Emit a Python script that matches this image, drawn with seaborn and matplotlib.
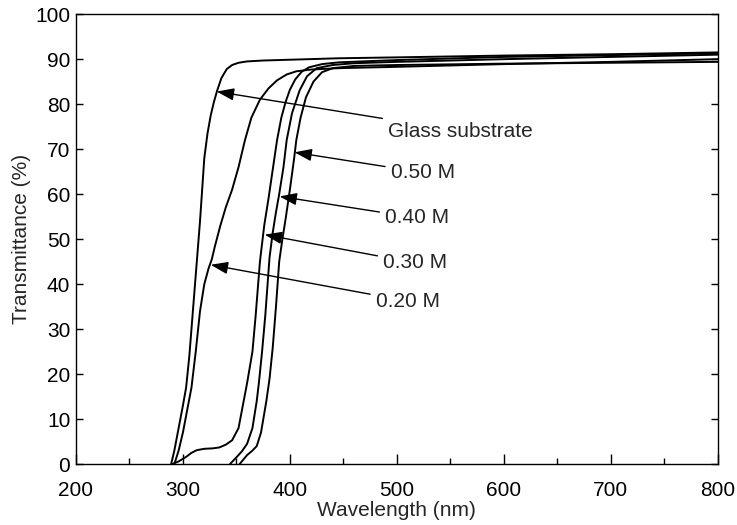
import matplotlib
matplotlib.use("Agg")
import matplotlib.pyplot as plt
import seaborn as sns
import pandas as pd
from matplotlib.ticker import MultipleLocator

# ---- data ----
glass_wl = [289, 292, 296, 300, 303, 306, 309, 312, 314, 316, 318, 320, 323, 326, 329, 332, 336, 341, 346, 352, 360, 375, 446, 500, 600, 700, 800]
glass_T  = [0, 3, 8, 13, 17, 24, 33, 42, 48, 54, 61, 68, 73.5, 77.5, 80.5, 83, 85.8, 87.8, 88.7, 89.2, 89.5, 89.7, 90.2, 90.4, 90.8, 91.1, 91.5]

m020_wl = [292, 296, 300, 304, 308, 312, 316, 320, 324, 327, 330, 335, 340, 346, 352, 358, 364, 372, 380, 388, 397, 406, 420, 446, 500, 600, 700, 800]
m020_T  = [0, 3, 7, 12, 17, 25, 34, 40, 43.5, 45.5, 48.5, 53, 57, 61, 66, 72, 77, 81, 83.5, 85.3, 86.6, 87.3, 87.7, 88.0, 88.3, 88.9, 89.4, 90.0]

m030_wl = [290, 296, 303, 308, 313, 320, 328, 334, 340, 346, 352, 356, 360, 365, 368, 372, 376, 380, 384, 388, 392, 396, 400, 405, 411, 418, 430, 446, 500, 600, 700, 800]
m030_T  = [0, 0.6, 1.6, 2.5, 3.1, 3.4, 3.5, 3.7, 4.3, 5.3, 8, 13, 18, 25, 33, 45, 53, 59, 65.5, 72, 77, 80.5, 83.2, 85.5, 87.2, 88.2, 88.9, 89.3, 89.8, 90.5, 90.9, 91.3]

m040_wl = [344, 350, 355, 360, 365, 369, 371, 374, 377, 381, 384, 387, 390, 394, 397, 402, 409, 416, 425, 440, 460, 500, 600, 700, 800]
m040_T  = [0, 1.5, 2.8, 4.5, 8, 14, 18, 25, 33, 46, 51.5, 56, 60, 66, 72, 78, 83, 86.2, 88, 88.7, 89.1, 89.4, 90.0, 90.5, 91.0]

m050_wl = [353, 360, 365, 369, 373, 378, 381, 384, 387, 390, 393, 396, 400, 404, 406, 410, 415, 422, 430, 440, 460, 500, 600, 700, 800]
m050_T  = [0, 2, 3, 4, 7, 14, 19, 26, 35, 45, 50, 54.5, 61, 68, 72, 77, 81.5, 85, 87.1, 88, 88.5, 88.7, 89.0, 89.2, 89.4]

samples = ["Glass substrate", "0.20 M", "0.30 M", "0.40 M", "0.50 M"]
series_wl = [glass_wl, m020_wl, m030_wl, m040_wl, m050_wl]
series_T = [glass_T, m020_T, m030_T, m040_T, m050_T]

# annotation: label, arrow tip (wl, T), text anchor (wl, T)
ann_labels = ["Glass substrate", "0.50 M", "0.40 M", "0.30 M", "0.20 M"]
ann_tip = [(331.6, 82.8), (404.3, 69.3), (390.3, 59.5), (376.4, 51.0), (326.0, 44.3)]
ann_txt = [(492.1, 74.0), (494.6, 64.8), (489.3, 54.7), (487.4, 44.7), (480.6, 36.2)]

x_ticks = [200, 300, 400, 500, 600, 700, 800]
y_ticks = [0, 10, 20, 30, 40, 50, 60, 70, 80, 90, 100]

rows = []
for name, wl, T in zip(samples, series_wl, series_T):
    for a, b in zip(wl, T):
        rows.append({"sample": name, "wl": a, "T": b})
df = pd.DataFrame(rows)

sns.set_style("ticks")
plt.rcParams["font.family"] = ["Liberation Sans", "DejaVu Sans"]
FS = 15

fig = plt.figure(figsize=(7.37, 5.25), dpi=100)
ax = fig.add_axes([0.103, 0.116, 0.871, 0.857])

sns.lineplot(data=df, x="wl", y="T", hue="sample", palette=["black"] * 5,
             legend=False, sort=False, estimator=None, linewidth=1.4, ax=ax)

for lab, tip, txt in zip(ann_labels, ann_tip, ann_txt):
    ax.annotate(lab, xy=tip, xytext=txt, fontsize=FS, va="center", ha="left",
                arrowprops=dict(arrowstyle="-|>,head_length=0.7,head_width=0.25",
                                color="black", lw=1.0, shrinkA=2, shrinkB=0))

ax.set_xlim(200, 800)
ax.set_ylim(0, 100)
ax.set_xticks(x_ticks)
ax.set_yticks(y_ticks)
ax.xaxis.set_minor_locator(MultipleLocator(50))
ax.tick_params(axis="both", which="both", direction="in", labelsize=FS, colors="black")
ax.tick_params(axis="x", which="major", length=7, width=1, top=False, pad=12)
ax.tick_params(axis="x", which="minor", length=4, width=1, top=False)
ax.tick_params(axis="y", which="major", length=5, width=1, right=True, pad=4)
for s in ax.spines.values():
    s.set_linewidth(1.0)
    s.set_color("black")
ax.set_xlabel("Wavelength (nm)", fontsize=FS, labelpad=1)
ax.set_ylabel("Transmittance (%)", fontsize=FS, labelpad=3)

fig.savefig("out.png", dpi=100)
